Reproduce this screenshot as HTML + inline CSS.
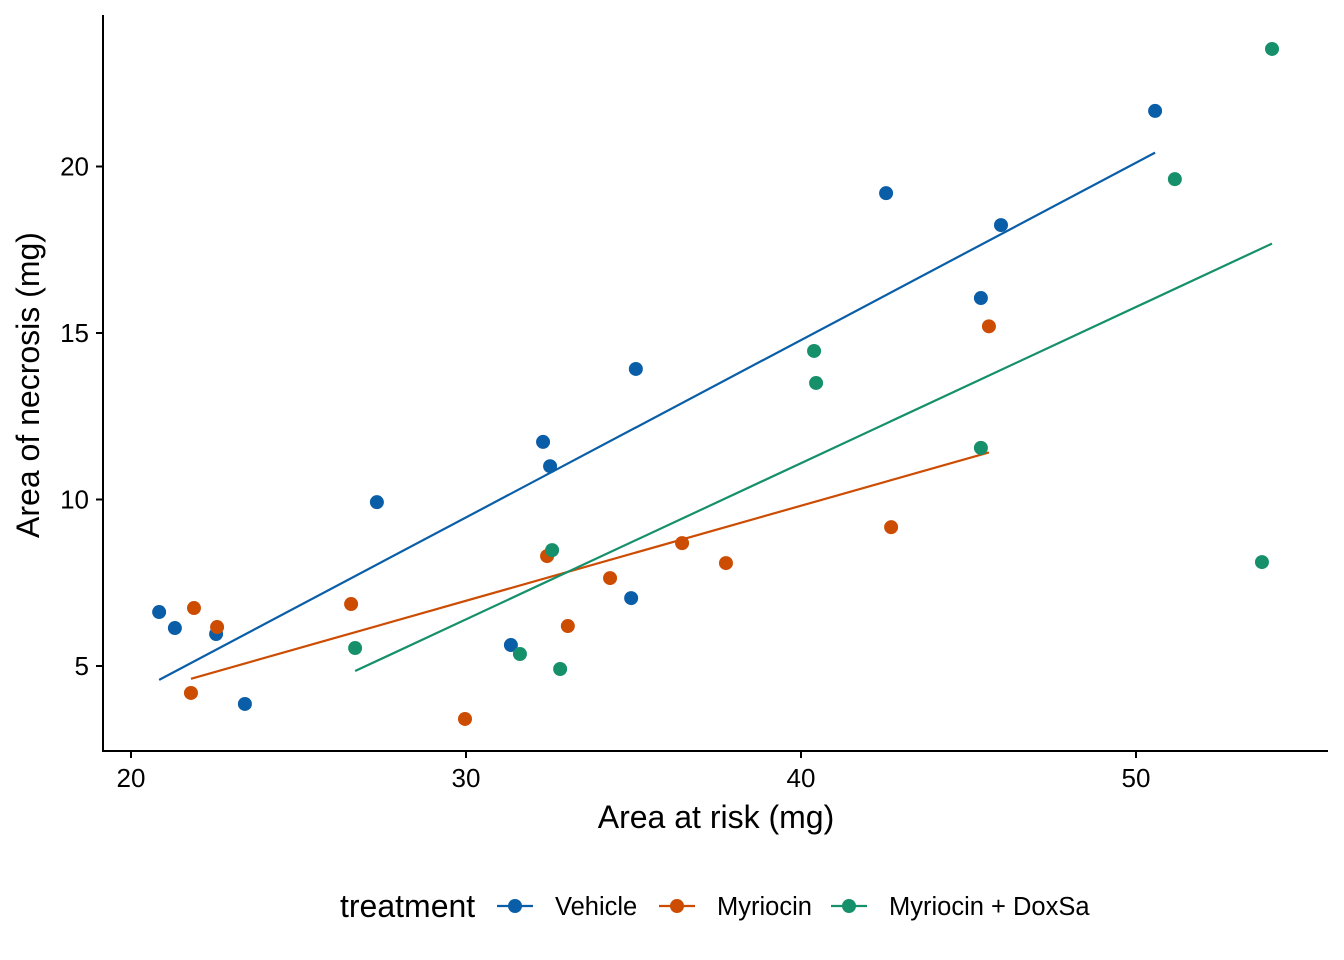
<!DOCTYPE html>
<html><head><meta charset="utf-8"><style>
html,body{margin:0;padding:0;background:#fff;}
svg{display:block;font-family:"Liberation Sans",Arial,sans-serif;}
</style></head><body>
<svg id="chart" width="1344" height="960"></svg>
<script>
const vehX=[20.84,21.31,22.54,23.40,27.34,32.30,32.51,31.34,35.07,34.93,42.54,45.37,45.97,50.57];
const vehY=[6.62,6.14,5.96,3.86,9.92,11.73,11.0,5.63,13.92,7.04,19.2,16.05,18.24,21.67];
const myrX=[21.88,22.57,21.79,26.57,29.97,32.42,33.04,34.30,36.45,37.76,42.69,45.61];
const myrY=[6.74,6.17,4.19,6.86,3.41,8.30,6.20,7.64,8.69,8.09,9.17,15.2];
const doxX=[26.69,31.61,32.57,32.81,40.39,40.45,45.37,51.16,53.76,54.06];
const doxY=[5.54,5.36,8.48,4.91,14.46,13.50,11.55,19.62,8.12,23.53];
const xTicks=[20,30,40,50];
const yTicks=[5,10,15,20];
const seriesNames=["Vehicle","Myriocin","Myriocin + DoxSa"];
const colors=["#0a5ea8","#cc4c02","#16906a"];

const NS="http://www.w3.org/2000/svg";
const svg=document.getElementById('chart');
const sx=v=>131+(v-20)*33.5;
const sy=v=>666-(v-5)*33.3;
function mk(t,a,p){const e=document.createElementNS(NS,t);for(const k in a)e.setAttribute(k,a[k]);(p||svg).appendChild(e);return e;}

const ax=mk('line',{x1:103,y1:15,x2:103,y2:751,stroke:'#000','stroke-width':2});


const bx=mk('line',{x1:102,y1:751,x2:1328,y2:751,stroke:'#000','stroke-width':2});


xTicks.forEach(t=>{
  const l=mk('line',{x1:sx(t),y1:751,x2:sx(t),y2:758,stroke:'#000','stroke-width':2});
  
  
  const tx=mk('text',{x:sx(t),y:787,'text-anchor':'middle','font-size':26,fill:'#000'});
  tx.textContent=t;
  
  
});
yTicks.forEach(t=>{
  const l=mk('line',{x1:96,y1:sy(t),x2:103,y2:sy(t),stroke:'#000','stroke-width':2});
  
  
  const tx=mk('text',{x:89,y:sy(t)+9,'text-anchor':'end','font-size':26,fill:'#000'});
  tx.textContent=t;
  
  
});
const xt=mk('text',{x:716,y:828,'text-anchor':'middle','font-size':32,fill:'#000'});
xt.textContent='Area at risk (mg)';


const yt=mk('text',{x:0,y:0,'text-anchor':'middle','font-size':32,fill:'#000',transform:'translate(39,385) rotate(-90)'});
yt.textContent='Area of necrosis (mg)';



const data=[[vehX,vehY],[myrX,myrY],[doxX,doxY]];
data.forEach(([X,Y],i)=>{
  const n=X.length,mx=X.reduce((a,b)=>a+b)/n,my=Y.reduce((a,b)=>a+b)/n;
  let sxy=0,sxx=0;for(let k=0;k<n;k++){sxy+=(X[k]-mx)*(Y[k]-my);sxx+=(X[k]-mx)**2;}
  const b=sxy/sxx,a=my-b*mx,x0=Math.min(...X),x1=Math.max(...X);
  const fl=mk('line',{x1:sx(x0),y1:sy(a+b*x0),x2:sx(x1),y2:sy(a+b*x1),stroke:colors[i],'stroke-width':2.2});
  
  
});
data.forEach(([X,Y],i)=>{
  X.forEach((x,k)=>{
    const c=mk('circle',{cx:sx(x),cy:sy(Y[k]),r:7,fill:colors[i]});
    
    
  });
});

const lt=mk('text',{x:340,y:917,'font-size':32,fill:'#000'});
lt.textContent='treatment';


const keyX=[515,677,849];
seriesNames.forEach((s,i)=>{
  const g=mk('g',{});
  
  
  mk('line',{x1:keyX[i]-18,y1:906,x2:keyX[i]+18,y2:906,stroke:colors[i],'stroke-width':2.2},g);
  mk('circle',{cx:keyX[i],cy:906,r:7,fill:colors[i]},g);
  const t=mk('text',{x:keyX[i]+40,y:915,'font-size':25.5,fill:'#000'},g);
  t.textContent=s;
});
</script>
</body></html>
